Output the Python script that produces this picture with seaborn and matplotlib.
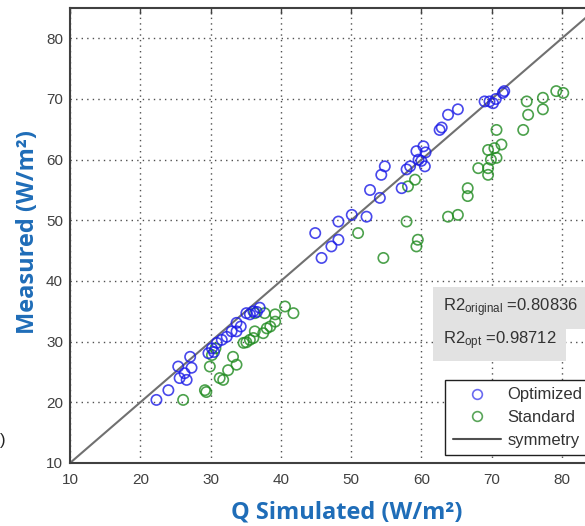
import matplotlib
matplotlib.use("Agg")
import matplotlib.pyplot as plt
import seaborn as sns
import pandas as pd
from matplotlib.lines import Line2D

# ---- data ----
opt_x = [22.3, 24.0, 25.4, 25.6, 26.6, 27.1, 27.3, 26.3,
         29.7, 30.2, 30.5, 30.9, 31.6, 32.3, 33.0, 33.7, 33.7, 34.3,
         35.1, 35.6, 36.1, 37.0, 36.6,
         44.9, 45.8, 47.2, 48.2, 48.2, 50.1, 52.2, 52.7, 54.1, 54.3, 54.8,
         57.2, 57.9, 58.4, 59.3, 59.6, 60.3, 60.6, 60.5, 60.0,
         62.6, 62.9, 63.8, 65.2,
         69.0, 69.7, 70.2, 70.6, 71.6, 71.8]
opt_y = [20.4, 22.0, 25.9, 24.0, 23.7, 27.5, 25.7, 24.8,
         28.1, 28.9, 28.3, 29.8, 30.3, 30.8, 31.7, 33.1, 31.7, 32.5,
         34.7, 34.5, 35.0, 35.6, 34.9,
         47.9, 43.8, 45.7, 46.8, 49.8, 50.9, 50.6, 55.0, 53.7, 57.5, 58.9,
         55.3, 58.4, 58.9, 61.4, 60.0, 62.2, 61.2, 58.9, 59.8,
         64.9, 65.3, 67.4, 68.3,
         69.6, 69.6, 69.3, 70.0, 71.0, 71.3]
std_x = [26.1, 29.2, 29.4, 29.9, 30.2, 30.7, 31.3, 31.8, 32.5, 33.2,
         33.7, 34.7, 35.1, 35.6, 36.1, 36.3, 37.5, 38.0, 38.5, 39.2,
         36.3, 37.7, 39.2, 40.6, 41.8,
         51.0, 54.6, 57.9, 59.5, 59.3, 58.1, 59.1,
         63.8, 65.2, 66.6, 66.6,
         68.1, 69.5, 69.5, 69.9, 70.7, 69.5, 70.4, 71.4, 70.7,
         74.5, 75.0, 75.2, 77.3, 77.3, 79.2, 80.2]
std_y = [20.4, 22.0, 21.7, 25.9, 27.8, 28.9, 24.0, 23.7, 25.3, 27.5,
         26.2, 29.8, 29.9, 30.3, 30.6, 31.7, 31.4, 32.2, 32.5, 33.3,
         34.7, 34.7, 34.5, 35.8, 34.7,
         47.9, 43.8, 49.8, 46.8, 45.7, 55.6, 56.7,
         50.6, 50.9, 55.3, 54.0,
         58.6, 58.6, 57.5, 60.0, 60.3, 61.6, 61.9, 62.5, 64.9,
         64.9, 69.6, 67.4, 70.2, 68.3, 71.3, 71.0]
sym_x = [10, 85]
sym_y = [10, 85]
ticks = [10, 20, 30, 40, 50, 60, 70, 80]
series_names = ["Optimized", "Standard", "symmetry"]
r2_original = "0.80836"
r2_opt = "0.98712"

sns.set_style("white")
plt.rcParams['font.family'] = ['Liberation Sans', 'DejaVu Sans']
plt.rcParams['mathtext.fontset'] = 'custom'
plt.rcParams['mathtext.rm'] = 'Liberation Sans'
plt.rcParams['mathtext.it'] = 'Liberation Sans:italic'

BLUE = '#1a1ae6'
GREEN = '#1f8a1f'
LABEL_BLUE = '#1f6db8'
DARK = '#404040'

fig = plt.figure(figsize=(5.85, 5.26), dpi=100)
ax = fig.add_axes([70/585, 63/526, 527/585, 455/526])

df_opt = pd.DataFrame({"x": opt_x, "y": opt_y})
df_std = pd.DataFrame({"x": std_x, "y": std_y})

sns.lineplot(x=sym_x, y=sym_y, ax=ax, color='#707070', linewidth=1.5, zorder=2)
for df, col in [(df_std, GREEN), (df_opt, BLUE)]:
    n_before = len(ax.collections)
    sns.scatterplot(data=df, x="x", y="y", ax=ax, marker='o', s=55,
                    color=col, linewidth=1.2, zorder=3)
    for c in ax.collections[n_before:]:
        c.set_facecolor('none')
        c.set_edgecolor(col)
        c.set_alpha(0.8)

ax.set_xlim(10, 85)
ax.set_ylim(10, 85)
ax.set_xticks(ticks)
ax.set_yticks(ticks)
ax.set_xlabel("")
ax.set_ylabel("")
ax.grid(True, color='#505050', linestyle=(0, (1, 3)), linewidth=1.0)
ax.tick_params(direction='in', length=4, width=1, color=DARK,
               top=True, right=True, labelsize=11, labelcolor=DARK)
ax.tick_params(axis='x', pad=7)
ax.tick_params(axis='y', pad=5)
for s in ax.spines.values():
    s.set_color(DARK)
    s.set_linewidth(1.5)

# R2 text boxes
ax.text(63.06, 35.0, r"R2$_{\mathrm{original}}$ =" + r2_original, fontsize=12,
        color='#333333', va='baseline', ha='left',
        bbox=dict(facecolor='#e2e2e2', edgecolor='none', pad=7))
ax.text(63.06, 29.6, r"R2$_{\mathrm{opt}}$ =" + r2_opt, fontsize=12,
        color='#333333', va='baseline', ha='left',
        bbox=dict(facecolor='#e2e2e2', edgecolor='none', pad=7))

handles = [
    Line2D([], [], marker='o', linestyle='none', markerfacecolor='none',
           markeredgecolor='#6a6af0', markersize=7, markeredgewidth=1.2),
    Line2D([], [], marker='o', linestyle='none', markerfacecolor='none',
           markeredgecolor='#5aa55a', markersize=7, markeredgewidth=1.2),
    Line2D([], [], color='#505050', linewidth=1.5),
]
leg = fig.legend(handles, series_names, loc='upper left',
                 bbox_to_anchor=(445/585, 1 - 380/526), frameon=True,
                 fancybox=False, shadow=False, fontsize=12,
                 handlelength=2.9, handletextpad=0.4, labelspacing=0.45,
                 borderpad=0.45, borderaxespad=0)
leg.get_frame().set_edgecolor('#202020')
leg.get_frame().set_linewidth(1.0)
leg.get_frame().set_alpha(1)
for t in leg.get_texts():
    t.set_color('#333333')

fig.text(347/585, 1 - 512/526, "Q Simulated (W/m²)", ha='center', va='center',
         fontsize=17, fontweight='bold', color=LABEL_BLUE,
         family=['Open Sans', 'DejaVu Sans'])
fig.text(28/585, 1 - 232/526, "Measured (W/m²)", ha='center', va='center',
         rotation=90, fontsize=17, fontweight='bold', color=LABEL_BLUE,
         family=['Open Sans', 'DejaVu Sans'])
fig.text(0.0, 1 - 440/526, ")", ha='left', va='center', fontsize=12,
         color='#222222')

fig.savefig("out.png", dpi=100)
